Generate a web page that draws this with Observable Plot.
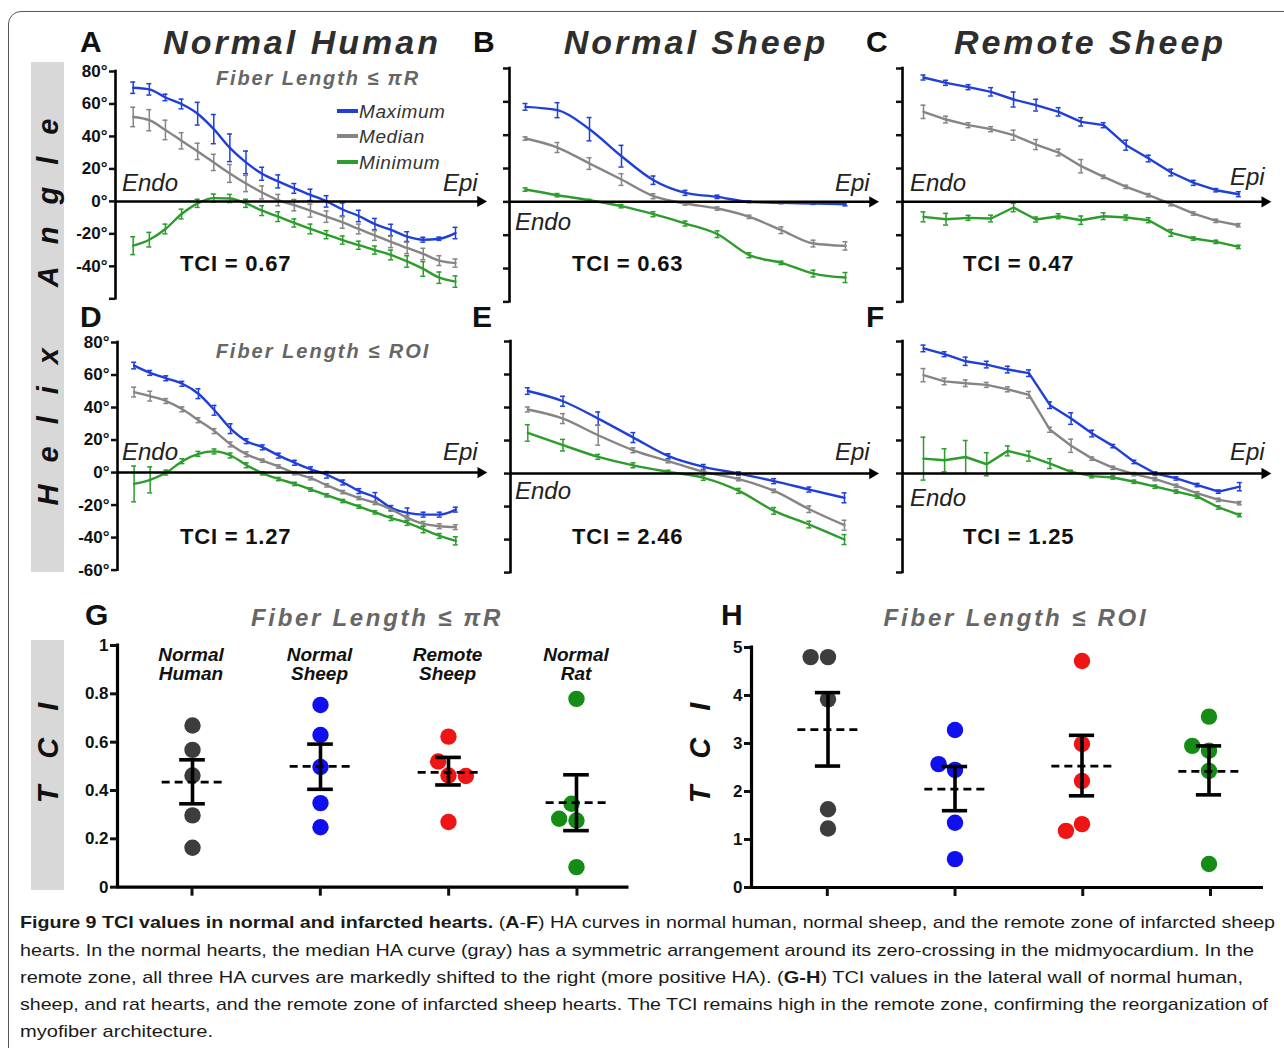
<!DOCTYPE html>
<html>
<head>
<meta charset="utf-8">
<script src="https://cdn.jsdelivr.net/npm/d3@7"></script>
<script src="https://cdn.jsdelivr.net/npm/@observablehq/plot@0.6"></script>
<style>
html,body{margin:0;padding:0;background:#fff;}
body{position:relative;width:1284px;height:1048px;overflow:hidden;font-family:"Liberation Sans",Arial,Helvetica,sans-serif;color:#111;}
#frame{position:absolute;left:8px;top:11px;width:1320px;height:1080px;border:1.6px solid #555;border-radius:13px;box-sizing:border-box;}
.bar{position:absolute;background:#d8d8d8;}
svg{overflow:visible;}
</style>
</head>
<body>
<div id="frame"></div>
<div class="bar" style="left:31px;top:62px;width:33px;height:510px"></div>
<div class="bar" style="left:31px;top:640px;width:33px;height:250px"></div>
<script>
// ---------------- DATA ----------------
const seriesNames = ["Maximum", "Median", "Minimum"];
const seriesColors = ["#1f3fd8", "#858585", "#2c9c2c"];

// Panel A: Normal Human, fiber length <= piR (Endo -> Epi)
const aMax    = [70,69,64,60,54,44.5,33,24,17,12.3,8,4,0,-5,-9,-14,-17.6,-21.7,-23.6,-23,-19.5];
const aMaxErr = [3.5,3.5,2,3,7,9,8.5,7,4,4,3,3.5,3.5,4,3.5,3.5,3.5,3,1.5,1,3.5];
const aMed    = [52,50,44,37.3,30.8,24,17.2,11,5.5,0.8,-2.3,-5.7,-9.4,-13,-17,-21,-25,-28.7,-32.4,-36.5,-38];
const aMedErr = [6,6.5,6,5,5,5,5.5,5,4,3.5,3.5,4,3.5,3.5,3,3,3.5,3.5,3.5,3,2.5];
const aMin    = [-27.3,-23.6,-17,-7.8,-1.2,2,1.8,-1.2,-5.7,-9.4,-13.3,-17,-20.5,-23.8,-27,-30,-33,-37,-41.6,-47,-49.4];
const aMinErr = [5.5,4.5,3,3,2.5,2.5,2.5,2.5,3,3,2.5,3,2.5,2.5,2.5,2.5,3,3.5,4.5,3.5,3.5];

// Panel B: Normal Sheep, fiber length <= piR
const bMax    = [57,55,43.6,27.4,13,5.4,3,0,-0.6,-1,-1.4];
const bMaxErr = [2,4.5,7,6.5,2.5,1.5,1,0.5,0.5,0.5,1];
const bMed    = [38,32.6,23,13.4,3.4,-1,-4,-9,-17,-25,-26.4];
const bMedErr = [1,3,3.5,3.5,1.5,1,1,1,2,2,2.5];
const bMin    = [7.4,4,1,-2.6,-7.4,-13,-19.4,-32,-36.6,-43,-45.4];
const bMinErr = [1,1,0.5,1,1.5,1.5,2,1.5,1,2,3];

// Panel C: Remote Sheep, fiber length <= piR
const cMax    = [74.6,71.4,68.8,66,61.4,58,54,48,46,34,26,17.6,11.4,7,4.6];
const cMaxErr = [1.5,1.5,1.5,2.5,4.5,3.5,2.5,2.5,1.5,3,2,2,1.5,1,1.5];
const cMed    = [54,49.4,46,43.6,40,34.4,29.6,21.4,15,9,4,-1.4,-7,-11.4,-14];
const cMedErr = [4,2,1.5,1.5,3,3,2,4,1,1,1,1,1,1,1];
const cMin    = [-9,-10.4,-9.6,-10,-3.4,-10.6,-8.6,-11,-8.6,-9.4,-11,-18.6,-22,-24,-27];
const cMinErr = [3,3.5,1.5,2,2.5,1.5,1.5,2.5,2,1.5,1.5,2,1,1,1];

// Panel D: Normal Human, fiber length <= ROI
const dMax    = [65.8,61.3,58,54.6,48.5,38.3,27,19.3,15.5,10.4,6,2,-1.4,-6.1,-11.4,-15.3,-21.8,-24.8,-25.9,-25.9,-22.8];
const dMaxErr = [2,1.5,1.5,1.5,3,3,3,1.5,1.5,1.5,1.5,1.5,2,1.5,1.5,3,1.5,3,1.5,1.5,1.5];
const dMed    = [49.5,47,44,38.9,32.2,25.5,17.3,11.2,7.3,3.7,-0.4,-3.5,-7.9,-12,-15.7,-18.7,-22.8,-27.9,-31.6,-33,-33.6];
const dMedErr = [3,3,1.5,1.5,1.5,1.5,1.5,1.5,1,1,1,1,1,1,1,1,1,1.5,1.5,1.5,1.5];
const dMin    = [-7,-4.5,0,7,11.5,13,10.5,4.5,-0.5,-4,-7,-10.5,-14,-17.5,-21,-24.5,-28,-31,-35,-39,-42];
const dMinErr = [11,8,1.5,1.5,1.5,1.5,1.5,1.5,1,1,1,1,1,1,1,1,1.5,1.5,2,1.5,2.5];

// Panel E: Normal Sheep, fiber length <= ROI
const eMax    = [50,43.8,33.3,21.8,10.5,4,0,-4.6,-9.7,-14.7];
const eMaxErr = [2,3,4,3,1.5,1.5,1,1.5,1.5,3];
const eMed    = [38.8,33.3,23.2,14.1,7.5,1,-3.4,-10.5,-21.6,-31.3];
const eMedErr = [1.5,3,6,1.5,1,1,1,1,2,3];
const eMin    = [24.6,17.2,10.1,5,1,-2.6,-10.5,-22.6,-30.9,-40];
const eMinErr = [5,3.5,1.5,1.5,1,1.5,1.5,2,2,3];

// Panel F: Remote Sheep, fiber length <= ROI
const fMax    = [75.8,72.3,68,66,63,60.8,41.4,33.3,24.2,16.6,7,0,-3,-7,-11,-8];
const fMaxErr = [2,1.5,2.5,2,2,2,2,3.5,2,1,1,1,1,1,1,2.5];
const fMed    = [59.6,55.8,54.7,53.7,51,47.7,26.5,16.8,9,3.4,-0.4,-3.4,-7.5,-12,-16,-18];
const fMedErr = [4,2,2,1.5,1.5,2,1.5,4,1,1,1,1,1,1,1,1];
const fMin    = [9,8,10,5.6,13.7,10.5,6,1,-1.6,-2.4,-5,-8,-11,-14,-20.6,-25.2];
const fMinErr = [13,7,10,7,3,3,3,1,1,1,1,1,1,1,1,1];

const tciLabels = ["TCI = 0.67","TCI = 0.63","TCI = 0.47","TCI = 1.27","TCI = 2.46","TCI = 1.25"];
const angleTicks = [80,60,40,20,0,-20,-40,-60];

// Panels G and H: TCI per group
const groups = ["Normal Human","Normal Sheep","Remote Sheep","Normal Rat"];
const groupColors = ["#3d3d3d","#0f0ff0","#ef1515","#158c15"];

const gHuman  = [0.669,0.568,0.462,0.297,0.163];
const gSheep  = [0.754,0.630,0.497,0.348,0.248];
const gRemote = [0.623,0.462,0.52,0.46,0.27];
const gRat    = [0.779,0.276,0.345,0.283,0.083];
const gMean   = [0.435,0.50,0.475,0.35];
const gSemLo  = [0.345,0.405,0.423,0.234];
const gSemHi  = [0.527,0.592,0.537,0.465];
const gTicks  = [0,0.2,0.4,0.6,0.8,1];

const hHuman  = [4.8,4.8,3.92,1.63,1.23];
const hSheep  = [3.28,2.45,2.57,1.35,0.59];
const hRemote = [4.72,2.99,2.22,1.32,1.18];
const hRat    = [3.56,2.43,2.85,2.95,0.49];
const hMean   = [3.29,2.05,2.53,2.42];
const hSemLo  = [2.53,1.6,1.91,1.93];
const hSemHi  = [4.06,2.52,3.17,2.95];
const hTicks  = [0,1,2,3,4,5];

// ---------------- HELPERS ----------------
const FONT = '"Liberation Sans", Arial, Helvetica, sans-serif';

function txt(html, x, y, css, anchor = "start") {
  const d = document.createElement("div");
  d.innerHTML = html;
  d.style.cssText = `position:absolute;left:${x}px;top:${y}px;white-space:nowrap;line-height:1;` + css;
  const tx = anchor === "middle" ? "-50%" : anchor === "end" ? "-100%" : "0";
  d.style.transform = `translate(${tx},-50%)`;
  document.body.appendChild(d);
  return d;
}
function place(el, left, top) {
  el.style.position = "absolute";
  el.style.left = left + "px";
  el.style.top = top + "px";
  document.body.appendChild(el);
}

function linePanel(cfg) {
  const {axisX, tip, first, last, y80, y60, series, curve, tickFormat} = cfg;
  const mL = 48, mR = 8, mT = 8, mB = 8;
  const frameRight = tip - 6;
  const left = axisX - mL, top = y80 - mT;
  const width = frameRight - axisX + mL + mR;
  const height = y60 - y80 + mT + mB;
  const n = series[0][0].length;
  const rows = [];
  series.forEach(([vals, errs], k) => vals.forEach((v, i) =>
    rows.push({name: seriesNames[k], i, v, lo: v - errs[i], hi: v + errs[i]})));
  const xAxisVal = (n - 1) * (axisX - first) / (last - first);
  const chart = Plot.plot({
    width, height, marginLeft: mL, marginRight: mR, marginTop: mT, marginBottom: mB,
    style: {background: "transparent", fontFamily: FONT, overflow: "visible"},
    x: {domain: [0, n - 1], range: [first - left, last - left], axis: null},
    y: {domain: [-60, 80], range: [y60 - top, y80 - top], axis: null},
    color: {domain: seriesNames, range: seriesColors},
    marks: [
      Plot.ruleX(rows, {x: "i", y1: "lo", y2: "hi", stroke: "name", strokeWidth: 1.5}),
      Plot.ruleY(rows, {x1: "i", x2: "i", y: "lo", stroke: "name", strokeWidth: 1.5, insetLeft: -2.5, insetRight: -2.5}),
      Plot.ruleY(rows, {x1: "i", x2: "i", y: "hi", stroke: "name", strokeWidth: 1.5, insetLeft: -2.5, insetRight: -2.5}),
      Plot.line(rows, {x: "i", y: "v", z: "name", stroke: "name", strokeWidth: 2.4, curve}),
      Plot.ruleY([0], {stroke: "#000", strokeWidth: 2.5}),
      Plot.dot([0], {y: d => d, frameAnchor: "right", symbol: "triangle", rotate: 90, r: 4.2, fill: "#000", stroke: null}),
      Plot.ruleX([xAxisVal], {y1: -60, y2: 80, stroke: "#000", strokeWidth: 2.6, strokeLinecap: "square"}),
      Plot.axisY({ticks: angleTicks, tickSize: 6, tickPadding: 2, tickFormat, strokeWidth: 2.5,
                  fontSize: 17, fontWeight: "bold", fill: "#111", label: null})
    ]
  });
  place(chart, left, top);
}

function dotPanel(cfg) {
  const {axisX, end, centers, yTop, y0, yMax, ticks, tickFormat, values, mean, lo, hi} = cfg;
  const mL = 45, mT = 8, mB = 16;
  const spacing = (centers[3] - centers[0]) / 3;
  const left = axisX - mL, top = yTop - mT;
  const bandLeft = centers[0] - spacing / 2, bandRight = centers[3] + spacing / 2;
  const width = Math.max(end, bandRight) - left + 6;
  const height = y0 - yTop + mT + mB;
  const mR1 = width - (end - left);
  const xAxisVal = 3 * (axisX - centers[0]) / (centers[3] - centers[0]);

  const axes = Plot.plot({
    width, height, marginLeft: mL, marginRight: mR1, marginTop: mT, marginBottom: mB,
    style: {background: "transparent", fontFamily: FONT, overflow: "visible"},
    x: {domain: [0, 3], range: [centers[0] - left, centers[3] - left], axis: null},
    y: {domain: [0, yMax], axis: null},
    marks: [
      Plot.ruleY([0], {stroke: "#000", strokeWidth: 3.2}),
      Plot.ruleX([xAxisVal], {y1: 0, y2: yMax, stroke: "#000", strokeWidth: 3.2, strokeLinecap: "square"}),
      Plot.axisX({ticks: [0, 1, 2, 3], tickFormat: () => "", tickSize: 9, strokeWidth: 3, label: null}),
      Plot.axisY({ticks, tickFormat, tickSize: 7, tickPadding: 2, strokeWidth: 3,
                  fontSize: 17, fontWeight: "bold", fill: "#111", label: null})
    ]
  });
  place(axes, left, top);

  const pts = [];
  values.forEach((vals, g) => vals.forEach(v => pts.push({group: groups[g], value: v})));
  const stats = groups.map((group, g) => ({group, mean: mean[g], lo: lo[g], hi: hi[g]}));
  const capInset = (spacing - 26) / 2;
  const dashInset = (spacing - 61) / 2;
  const dots = Plot.plot({
    width, height,
    marginLeft: bandLeft - left, marginRight: width - (bandRight - left), marginTop: mT, marginBottom: mB,
    style: {background: "transparent", fontFamily: FONT, overflow: "visible"},
    fx: {domain: groups, padding: 0, axis: null},
    x: {domain: [-1, 1], axis: null},
    y: {domain: [0, yMax], axis: null},
    color: {domain: groups, range: groupColors},
    marks: [
      Plot.dot(pts, Plot.dodgeX({anchor: "middle", padding: 1}, {fx: "group", y: "value", r: 8.2, fill: "group"})),
      Plot.ruleY(stats, {fx: "group", y: "mean", stroke: "#000", strokeWidth: 2.8, strokeDasharray: "8,5",
                         insetLeft: dashInset, insetRight: dashInset}),
      Plot.ruleX(stats, {fx: "group", x: () => 0, y1: "lo", y2: "hi", stroke: "#000", strokeWidth: 3.6}),
      Plot.ruleY(stats, {fx: "group", y: "lo", stroke: "#000", strokeWidth: 3.6, insetLeft: capInset, insetRight: capInset}),
      Plot.ruleY(stats, {fx: "group", y: "hi", stroke: "#000", strokeWidth: 3.6, insetLeft: capInset, insetRight: capInset})
    ]
  });
  place(dots, left, top);
}

// ---------------- PANELS A–F ----------------
const degLabels = d => d + "°";
const degLabelsA = d => d === -60 ? "" : d + "°";
const noLabels = () => "";

linePanel({axisX: 115, tip: 486, first: 132.7, last: 455, y80: 70.7, y60: 298, curve: "monotone-x",
  tickFormat: degLabelsA, series: [[aMax, aMaxErr], [aMed, aMedErr], [aMin, aMinErr]]});
linePanel({axisX: 509, tip: 878, first: 525, last: 845, y80: 68.3, y60: 301.7, curve: "monotone-x",
  tickFormat: noLabels, series: [[bMax, bMaxErr], [bMed, bMedErr], [bMin, bMinErr]]});
linePanel({axisX: 901.7, tip: 1270, first: 922.7, last: 1238, y80: 68.3, y60: 301.7, curve: "linear",
  tickFormat: noLabels, series: [[cMax, cMaxErr], [cMed, cMedErr], [cMin, cMinErr]]});
linePanel({axisX: 116.7, tip: 486, first: 133.3, last: 455, y80: 341.7, y60: 569.3, curve: "monotone-x",
  tickFormat: degLabels, series: [[dMax, dMaxErr], [dMed, dMedErr], [dMin, dMinErr]]});
linePanel({axisX: 510, tip: 878, first: 527.3, last: 844, y80: 340.9, y60: 572, curve: "monotone-x",
  tickFormat: noLabels, series: [[eMax, eMaxErr], [eMed, eMedErr], [eMin, eMinErr]]});
linePanel({axisX: 901.7, tip: 1270, first: 922.7, last: 1239, y80: 341, y60: 572, curve: "linear",
  tickFormat: noLabels, series: [[fMax, fMaxErr], [fMed, fMedErr], [fMin, fMinErr]]});

// ---------------- PANELS G, H ----------------
const gCenters = [191, 319.5, 447.5, 576];
const hCenters = [826.8, 954, 1082.5, 1210];
dotPanel({axisX: 116.5, end: 628, centers: gCenters, yTop: 645, y0: 886.7, yMax: 1,
  ticks: gTicks, tickFormat: d => d === 0 ? "0" : d === 1 ? "1" : d.toFixed(1),
  values: [gHuman, gSheep, gRemote, gRat], mean: gMean, lo: gSemLo, hi: gSemHi});
dotPanel({axisX: 751, end: 1263, centers: hCenters, yTop: 646.7, y0: 886.7, yMax: 5,
  ticks: hTicks, tickFormat: d => String(d),
  values: [hHuman, hSheep, hRemote, hRat], mean: hMean, lo: hSemLo, hi: hSemHi});

// ---------------- TEXT ----------------
const letterCss = "font-size:30px;font-weight:bold;color:#111;";
[["A",80,42],["B",473,42],["C",866,42],["D",80,317],["E",472,317],["F",866,317],["G",85,615],["H",721,615]]
  .forEach(([t,x,y]) => txt(t, x, y, letterCss));

const titleCss = "font-size:34px;font-weight:bold;font-style:italic;letter-spacing:3px;color:#2e2e2e;";
txt("Normal Human", 302, 42, titleCss, "middle");
txt("Normal Sheep", 696, 42, titleCss, "middle");
txt("Remote Sheep", 1090, 42, titleCss, "middle");

const subCss = "font-weight:bold;font-style:italic;color:#666;";
txt("Fiber Length ≤ πR", 318, 78, subCss + "font-size:20px;letter-spacing:1.9px;", "middle");
txt("Fiber Length ≤ ROI", 323, 351, subCss + "font-size:20px;letter-spacing:2px;", "middle");
txt("Fiber Length ≤ πR", 377, 618, subCss + "font-size:24px;letter-spacing:2.7px;", "middle");
txt("Fiber Length ≤ ROI", 1016, 618, subCss + "font-size:24px;letter-spacing:2.8px;", "middle");

// legend (panel A)
seriesNames.forEach((name, k) => {
  const y = [111, 136, 162][k];
  const seg = document.createElement("div");
  seg.style.cssText = `position:absolute;left:337px;top:${y - 2}px;width:21px;height:4px;background:${seriesColors[k]};`;
  document.body.appendChild(seg);
  txt(name, 359, y, "font-size:19px;font-style:italic;color:#333;letter-spacing:0.6px;");
});

const endoCss = "font-size:24px;font-style:italic;color:#222;";
[["Endo",122,183],["Epi",443,183],["Endo",515,222],["Epi",835,183],["Endo",910,183],["Epi",1230,177],
 ["Endo",122,452],["Epi",443,452],["Endo",515,491],["Epi",835,452],["Endo",910,498],["Epi",1230,452]]
  .forEach(([t,x,y]) => txt(t, x, y, endoCss));

const tciCss = "font-size:22px;font-weight:bold;color:#111;letter-spacing:0.8px;";
[[180,264],[572,264],[963,264],[180,537],[572,537],[963,537]]
  .forEach(([x,y], k) => txt(tciLabels[k], x, y, tciCss));

// group headers (panel G)
groups.forEach((g, k) => {
  const [w1, w2] = g.split(" ");
  txt(w1, gCenters[k], 654, "font-size:19px;font-weight:bold;font-style:italic;color:#111;", "middle");
  txt(w2, gCenters[k], 673, "font-size:19px;font-weight:bold;font-style:italic;color:#111;", "middle");
});

// rotated axis titles
function rot(text, cx, cy, css) {
  const d = document.createElement("div");
  d.textContent = text;
  d.style.cssText = `position:absolute;left:${cx}px;top:${cy}px;white-space:nowrap;line-height:1;` + css;
  d.style.transform = "translate(-50%,-50%) rotate(-90deg)";
  document.body.appendChild(d);
}
rot("Helix Angle", 48, 312, "font-size:29px;font-weight:bold;font-style:italic;color:#111;letter-spacing:22px;padding-left:22px;word-spacing:10px;");
rot("TCI", 48, 753, "font-size:29px;font-weight:bold;font-style:italic;color:#111;letter-spacing:27px;padding-left:27px;");
rot("TCI", 700, 753, "font-size:29px;font-weight:bold;font-style:italic;color:#111;letter-spacing:27px;padding-left:27px;");

// caption
const captionLines = [
  ["<b>Figure 9 TCI values in normal and infarcted hearts.</b> (<b>A</b>-<b>F</b>) HA curves in normal human, normal sheep, and the remote zone of infarcted sheep", 922, 1275],
  ["hearts. In the normal hearts, the median HA curve (gray) has a symmetric arrangement around its zero-crossing in the midmyocardium. In the", 950, 1254],
  ["remote zone, all three HA curves are markedly shifted to the right (more positive HA). (<b>G-H</b>) TCI values in the lateral wall of normal human,", 977, 1243],
  ["sheep, and rat hearts, and the remote zone of infarcted sheep hearts. The TCI remains high in the remote zone, confirming the reorganization of", 1004, 1268],
  ["myofiber architecture.", 1031, 213]
];
captionLines.forEach(([html, y, endX]) => {
  const d = txt(html, 20, y, "font-size:17px;color:#1a1a1a;transform-origin:0 50%;");
  const w = d.getBoundingClientRect().width;
  const s = (endX - 20) / w;
  d.style.transform = `translate(0,-50%) scaleX(${s})`;
});
</script>
</body>
</html>
